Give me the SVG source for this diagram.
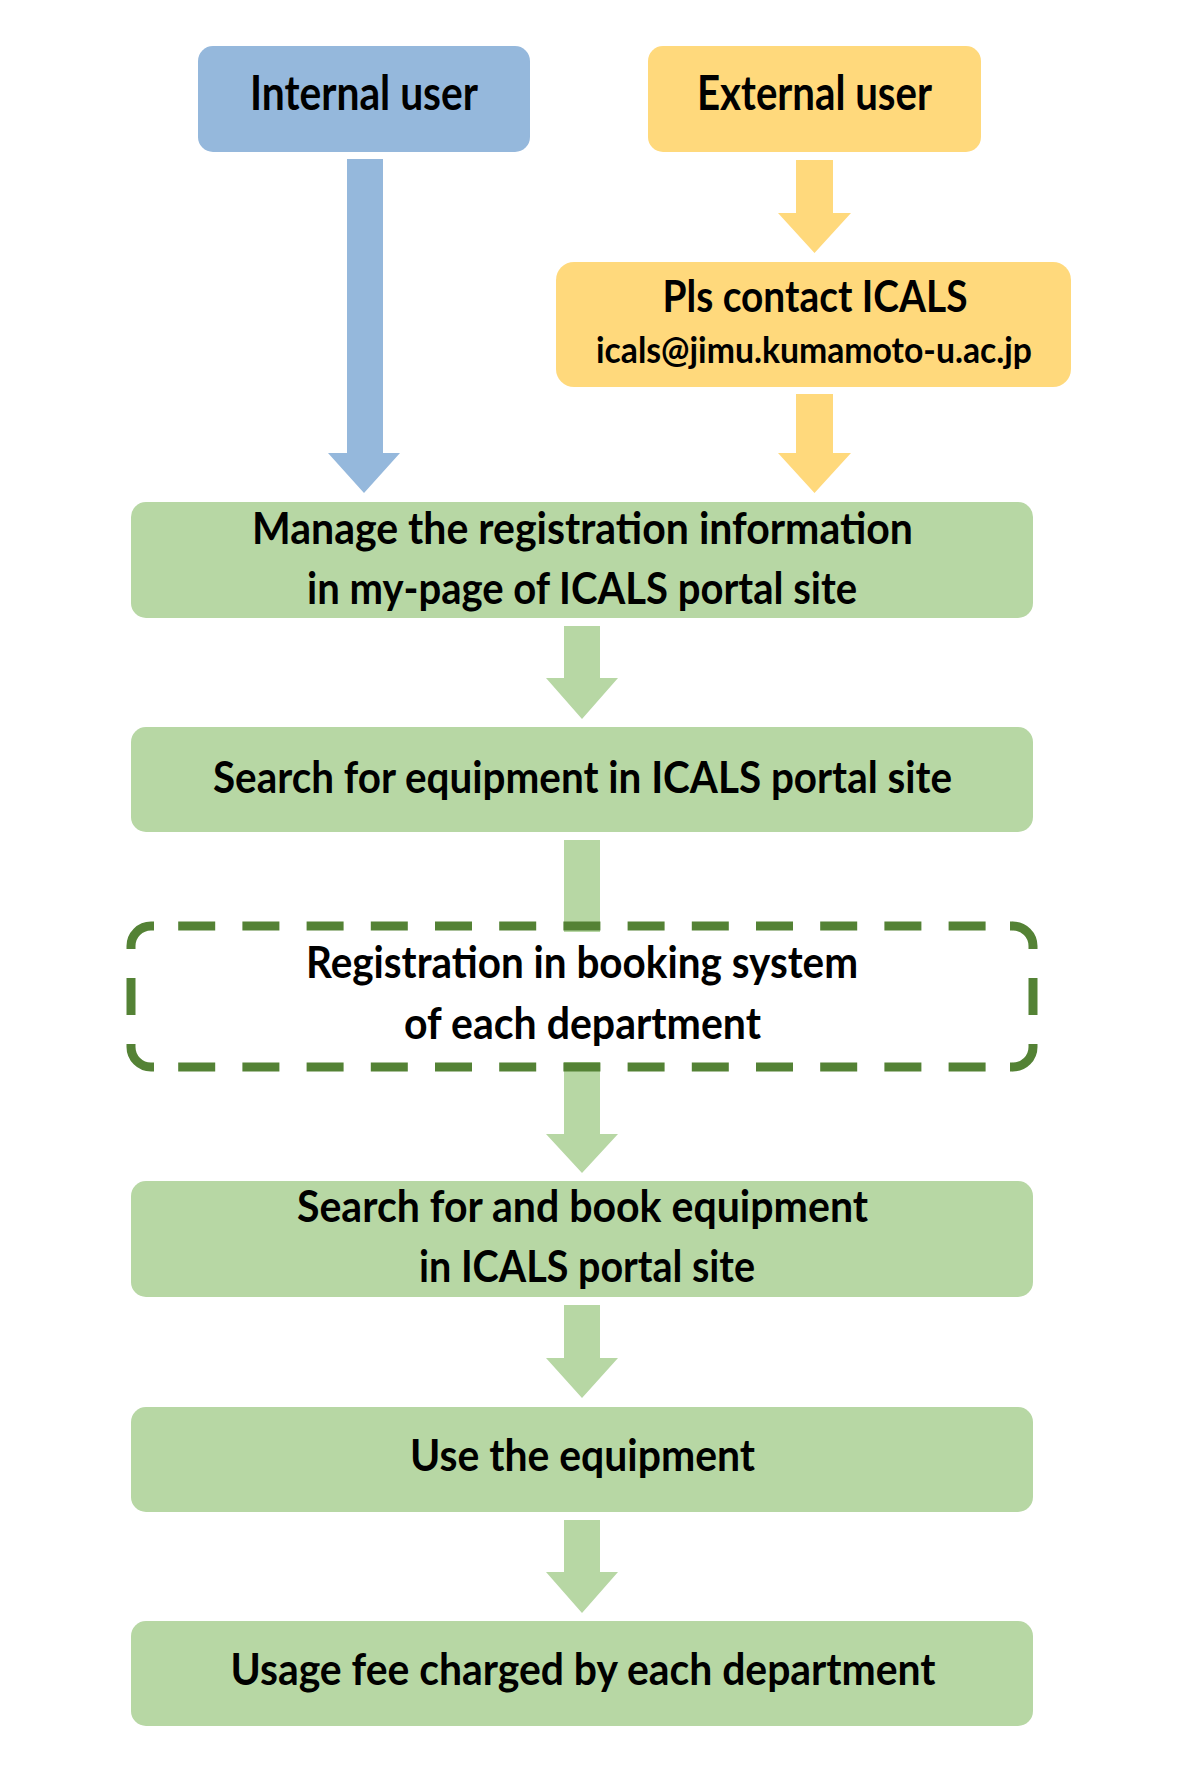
<svg xmlns="http://www.w3.org/2000/svg" width="1181" height="1772" viewBox="0 0 1181 1772">
<style>
.t{font-family:Lato,"Open Sans","Liberation Sans",sans-serif;font-weight:bold;fill:#000;text-anchor:middle}
.big{font-size:47px}
.mid{font-size:43px}
.sm{font-size:36px}
.blue{fill:#95B8DC}
.yel{fill:#FFD97C}
.grn{fill:#B7D7A4}
.dash{fill:none;stroke:#548235;stroke-width:9}
.h{stroke-dasharray:37 27.2;stroke-dashoffset:37}
.v{stroke-dasharray:37 32;stroke-dashoffset:37}
</style>
<rect width="1181" height="1772" fill="#fff"/>
<g id="connectors">
<polygon class="blue" points="347,159 383,159 383,453 400,453 364,493 328,453 347,453"/>
<polygon class="yel" points="796,160 833,160 833,213 851,213 814.5,253 778,213 796,213"/>
<polygon class="yel" points="796,394 833,394 833,453 851,453 814.5,493 778,453 796,453"/>
<polygon class="grn" points="564,626 600,626 600,678 618,678 582,719 546,678 564,678"/>
<rect class="grn" x="564" y="840" width="36" height="92"/>
<polygon class="grn" points="564,1062 600,1062 600,1134 618,1134 582,1173 546,1134 564,1134"/>
<polygon class="grn" points="564,1305 600,1305 600,1358 618,1358 582,1398 546,1358 564,1358"/>
<polygon class="grn" points="564,1520 600,1520 600,1572 618,1572 582,1613 546,1572 564,1572"/>
</g>
<g id="internal">
<rect class="blue" x="198" y="46" width="332" height="106" rx="15"/>
<text class="t big" x="364" y="110" textLength="228" lengthAdjust="spacingAndGlyphs">Internal user</text>
</g>
<g id="external">
<rect class="yel" x="648" y="46" width="333" height="106" rx="15"/>
<text class="t big" x="814.5" y="110" textLength="235" lengthAdjust="spacingAndGlyphs">External user</text>
</g>
<g id="contact">
<rect class="yel" x="556" y="262" width="515" height="125" rx="18"/>
<text class="t mid" x="815" y="312" textLength="305" lengthAdjust="spacingAndGlyphs">Pls contact ICALS</text>
<text class="t sm" x="814" y="363" textLength="436" lengthAdjust="spacingAndGlyphs">icals@jimu.kumamoto-u.ac.jp</text>
</g>
<g id="manage">
<rect class="grn" x="131" y="502" width="902" height="116" rx="15"/>
<text class="t mid" x="582.5" y="544" textLength="661" lengthAdjust="spacingAndGlyphs">Manage the registration information</text>
<text class="t mid" x="582" y="604" textLength="550" lengthAdjust="spacingAndGlyphs">in my-page of ICALS portal site</text>
</g>
<g id="search">
<rect class="grn" x="131" y="727" width="902" height="105" rx="15"/>
<text class="t mid" x="582.5" y="793" textLength="739" lengthAdjust="spacingAndGlyphs">Search for equipment in ICALS portal site</text>
</g>
<g id="registration">
<rect x="131" y="926" width="902" height="141" rx="20" fill="#fff" fill-opacity="0"/>
<path class="dash h" d="M151,926 H1013"/>
<path class="dash h" d="M151,1067 H1013"/>
<path class="dash v" d="M131,946 V1047"/>
<path class="dash v" d="M1033,946 V1047"/>
<path class="dash" d="M131,949 V946 A20,20 0 0 1 151,926 H154 M1010,926 H1013 A20,20 0 0 1 1033,946 V949 M1033,1044 V1047 A20,20 0 0 1 1013,1067 H1010 M154,1067 H151 A20,20 0 0 1 131,1047 V1044"/>
<text class="t mid" x="582" y="978" textLength="552" lengthAdjust="spacingAndGlyphs">Registration in booking system</text>
<text class="t mid" x="582.5" y="1039" textLength="357" lengthAdjust="spacingAndGlyphs">of each department</text>
</g>
<g id="book">
<rect class="grn" x="131" y="1181" width="902" height="116" rx="15"/>
<text class="t mid" x="582.5" y="1222" textLength="571" lengthAdjust="spacingAndGlyphs">Search for and book equipment</text>
<text class="t mid" x="587" y="1282" textLength="336" lengthAdjust="spacingAndGlyphs">in ICALS portal site</text>
</g>
<g id="use">
<rect class="grn" x="131" y="1407" width="902" height="105" rx="15"/>
<text class="t mid" x="582.5" y="1471" textLength="345" lengthAdjust="spacingAndGlyphs">Use the equipment</text>
</g>
<g id="usage">
<rect class="grn" x="131" y="1621" width="902" height="105" rx="15"/>
<text class="t mid" x="583" y="1685" textLength="705" lengthAdjust="spacingAndGlyphs">Usage fee charged by each department</text>
</g>
</svg>
